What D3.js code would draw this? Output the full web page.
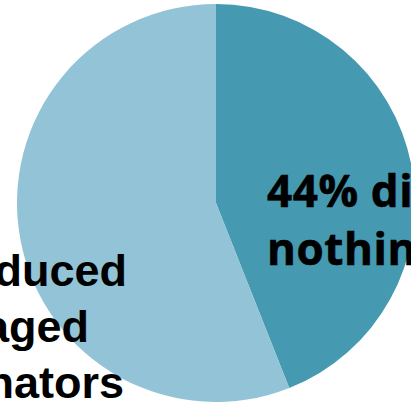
<!DOCTYPE html>
<html>
<head>
<meta charset="utf-8">
<script src="https://cdn.jsdelivr.net/npm/d3@7"></script>
<style>
  html, body { margin: 0; padding: 0; background: #fff; overflow: hidden; }
  svg { display: block; }
</style>
</head>
<body>
<svg id="chart" width="411" height="404"></svg>
<script>
// Share of respondents by action taken
const categories = ["did nothing", "introduced or managed coordinators"];
const shares = [44, 56];
const colors = ["#4599b0", "#93c3d6"];
const labelLines = [
  ["44% did", "nothing"],
  ["56% introduced", "or managed", "coordinators"]
];

const svg = d3.select("#chart");
const cx = 216, cy = 203, radius = 199;

const pie = d3.pie().sort(null).value(d => d)(shares);
const arc = d3.arc().innerRadius(0).outerRadius(radius);

const g = svg.append("g").attr("transform", `translate(${cx},${cy})`);

g.selectAll("path.slice")
  .data(pie)
  .join("path")
  .attr("class", "slice")
  .attr("d", arc)
  .attr("fill", (d, i) => colors[i]);

// Label for the "did nothing" slice, left-aligned inside the slice
const right = svg.append("text")
  .attr("x", 267)
  .attr("y", 207)
  .attr("font-family", "'Open Sans', sans-serif")
  .attr("font-weight", 700)
  .attr("font-size", 44)
  .attr("letter-spacing", 0.6)
  .attr("stroke", "#000")
  .attr("stroke-width", 0.6)
  .attr("fill", "#000");
right.selectAll("tspan")
  .data(labelLines[0])
  .join("tspan")
  .attr("x", 267)
  .attr("dy", (d, i) => i === 0 ? 0 : 58)
  .text(d => d);

// Label for the other slice, each line ending at its right edge
const leftEnds = [127, 89, 124];
const left = svg.append("g")
  .attr("font-family", "'Liberation Sans', Arial, sans-serif")
  .attr("font-weight", 700)
  .attr("font-size", 45)
  .attr("fill", "#000")
  .attr("text-anchor", "end");
left.selectAll("text")
  .data(labelLines[1])
  .join("text")
  .attr("x", (d, i) => leftEnds[i])
  .attr("y", (d, i) => 286 + i * 56)
  .text(d => d);
</script>
</body>
</html>
